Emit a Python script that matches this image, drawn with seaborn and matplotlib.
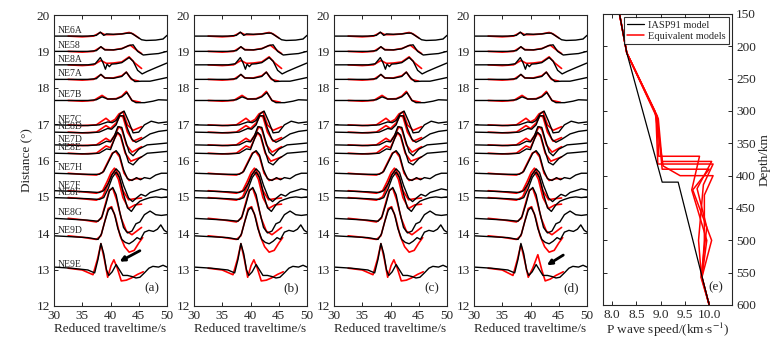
import seaborn as sns
import pandas as pd
import matplotlib.pyplot as plt

# stations and epicentral distances (deg)
stations = ["NE6A", "NE58", "NE8A", "NE7A", "NE7B", "NE7C", "NE8D", "NE7D",
            "NE8E", "NE7H", "NE7F", "NE8F", "NE8G", "NE9D", "NE9E"]
distances = [19.42, 19.0, 18.63, 18.23, 17.65, 16.98, 16.78, 16.43,
             16.2, 15.65, 15.17, 14.98, 14.41, 13.93, 12.99]

# observed traces (black): (reduced time s, amplitude in deg)
ne6a_obs = ([30, 36, 37.5, 38.2, 38.8, 39.3, 40.5, 42, 43, 43.7, 44.5, 45.5, 46.3, 48, 49.3, 50],
            [0, 0, 0.02, 0.11, 0.02, 0.06, 0.05, 0.06, 0.08, 0.08, 0.0, -0.1, -0.12, -0.11, -0.08, 0.02])
ne58_obs = ([30, 36, 37.5, 38.3, 39, 40.5, 42, 43.2, 44, 44.8, 45.8, 47, 48.5, 50],
            [0, 0, 0.02, 0.13, 0.04, 0.04, 0.07, 0.16, 0.18, 0.0, -0.1, -0.08, -0.06, 0.0])
ne8a_obs = ([30, 36, 37.3, 38.2, 38.7, 39.1, 39.4, 39.8, 40.2, 41, 42, 43.3, 44, 44.8, 45.6, 46.5, 48, 50],
            [0, 0, 0.03, 0.2, 0.05, -0.12, 0.02, -0.05, 0.02, 0.03, 0.06, 0.2, 0.1, -0.15, -0.25, -0.18, -0.08, 0.05])
ne7a_obs = ([30, 36, 37.5, 38.3, 39, 40.5, 42, 42.8, 43.5, 44.3, 45.5, 47, 48.5, 50],
            [0, 0, 0.02, 0.14, 0.04, 0.03, 0.08, 0.2, 0.05, -0.06, -0.05, -0.05, 0.0, 0.05])
ne7b_obs = ([30, 36, 37.5, 38.5, 39.5, 41, 42, 42.9, 43.8, 44.5, 46, 47.5, 48.5, 50],
            [0, 0, 0.02, 0.1, 0.04, 0.04, 0.1, 0.22, 0.0, -0.06, -0.06, -0.02, 0.02, 0.01])
ne7c_obs = ([30, 36, 38, 39.5, 40.3, 41, 41.7, 42.4, 43.2, 44, 45, 46, 47.2, 48.5, 50],
            [0, -0.02, 0.0, 0.08, 0.06, 0.12, 0.3, 0.38, 0.1, -0.22, -0.2, 0.0, 0.1, 0.05, 0.08])
ne8d_obs = ([30, 36, 38, 39.5, 40.2, 41, 41.6, 42.3, 43, 43.8, 44.5, 45.5, 47, 48.5, 50],
            [0, -0.02, 0, 0.1, 0.08, 0.2, 0.45, 0.45, 0.1, -0.2, -0.28, -0.2, -0.05, 0.02, 0.05])
ne7d_obs = ([30, 36, 38, 39.3, 40, 40.7, 41.3, 42, 42.6, 43.3, 44, 45, 46.5, 48, 50],
            [0, -0.02, 0, 0.1, 0.08, 0.25, 0.5, 0.48, 0.15, -0.2, -0.3, -0.12, 0.0, 0.02, 0.05])
ne8e_obs = ([30, 36, 38, 39.3, 40, 40.6, 41.2, 41.8, 42.5, 43.2, 44, 45, 46.5, 48, 50],
            [0, -0.02, 0, 0.12, 0.1, 0.35, 0.58, 0.5, 0.1, -0.25, -0.32, -0.15, 0.0, 0.02, 0.05])
ne7h_obs = ([30, 36, 38, 38.8, 39.6, 40.4, 41.0, 41.6, 42.3, 43, 43.8, 44.6, 45.3, 46, 47, 48, 49, 50],
            [0, -0.03, -0.03, 0.05, 0.3, 0.55, 0.62, 0.5, 0.1, -0.15, -0.2, -0.12, -0.18, -0.12, -0.15, -0.05, 0.0, 0.0])
ne7f_obs = ([30, 36, 38, 38.8, 39.6, 40.3, 41.0, 41.6, 42.3, 43.2, 43.9, 44.6, 45.4, 46.2, 47, 48, 49, 50],
            [0, -0.03, -0.05, 0.0, 0.2, 0.45, 0.6, 0.5, 0.15, -0.2, -0.3, -0.2, -0.1, -0.15, -0.05, 0.0, 0.05, 0.02])
ne8f_obs = ([30, 36, 38, 38.8, 39.6, 40.3, 41.0, 41.6, 42.3, 43.0, 43.7, 44.5, 45.2, 46, 47, 48, 49, 50],
            [0, -0.03, -0.05, 0.0, 0.25, 0.55, 0.7, 0.55, 0.1, -0.28, -0.38, -0.2, -0.1, -0.05, 0.0, 0.02, 0.0, 0.02])
ne8g_obs = ([30, 36, 37.8, 38.5, 39.2, 39.8, 40.4, 41, 41.6, 42.3, 43, 43.8, 44.5, 45.2, 46, 47, 48, 49, 50],
            [0, -0.05, -0.08, 0.05, 0.4, 0.75, 0.85, 0.65, 0.2, -0.25, -0.4, -0.35, -0.15, -0.1, 0.1, 0.2, 0.1, 0.08, 0.1])
ne9d_obs = ([30, 36, 37.8, 38.4, 39, 39.6, 40.1, 40.7, 41.3, 42, 42.6, 43.3, 44, 44.7, 45.3, 46, 46.8, 47.6, 48.3, 48.9, 49.5, 50],
            [0, -0.05, -0.1, 0.05, 0.4, 0.7, 0.78, 0.6, 0.2, -0.1, -0.18, -0.22, -0.15, -0.05, -0.1, 0.1, 0.15, 0.12, 0.18, 0.3, 0.15, 0.1])
ne9e_obs = ([30, 33, 36, 37.2, 37.8, 38.3, 38.8, 39.3, 39.7, 40.3, 41, 41.6, 42.2, 43, 43.8, 44.5, 45.2, 46, 46.8, 47.5, 48.5, 49.3, 50],
            [0.08, 0.05, 0.0, -0.08, 0.3, 0.73, 0.45, 0.0, -0.15, -0.05, 0.15, 0.0, -0.15, -0.15, -0.18, -0.22, -0.2, -0.08, 0.05, 0.1, 0.08, 0.13, 0.08])

# synthetic traces (red)
ne6a_syn = ([32.5, 35, 37, 38.2, 39, 40.5, 42, 43.3, 44, 45],
            [0, -0.02, 0, 0.1, 0.04, 0.04, 0.06, 0.1, 0.06, -0.05])
ne58_syn = ([32.5, 35, 37, 38.3, 39, 40.5, 42, 43.5, 44.5, 45.5],
            [0, -0.02, 0, 0.12, 0.05, 0.04, 0.08, 0.17, 0.05, -0.06])
ne8a_syn = ([32.5, 35, 37, 38.3, 39.3, 40.5, 42, 43.3, 44.3, 45.5],
            [0, -0.02, 0, 0.12, 0.04, 0.05, 0.08, 0.22, 0.05, -0.1])
ne7a_syn = ([32.5, 35, 37, 38.3, 39, 40.5, 42, 42.8, 43.7, 45],
            [0, -0.02, 0, 0.13, 0.04, 0.04, 0.1, 0.2, 0.0, -0.05])
ne7b_syn = ([32.5, 35, 37, 38.5, 39.5, 41, 42, 42.8, 43.8, 45.3],
            [0, -0.02, 0, 0.14, 0.04, 0.05, 0.12, 0.25, 0.0, -0.05])
ne7c_syn = ([32.5, 35, 37.5, 39.2, 40, 40.8, 41.5, 42.2, 43, 44, 45.5],
            [0, -0.02, 0.0, 0.18, 0.08, 0.15, 0.3, 0.36, 0.0, -0.15, -0.05])
ne8d_syn = ([32.5, 35, 37.5, 39.2, 40, 41, 41.7, 42.2, 43, 44, 45.5],
            [0, -0.02, 0, 0.18, 0.1, 0.25, 0.45, 0.42, 0.0, -0.25, -0.15])
ne7d_syn = ([32.5, 35, 37.5, 39.2, 40, 40.8, 41.5, 42, 42.8, 43.8, 45.5],
            [0, -0.02, 0, 0.18, 0.1, 0.28, 0.5, 0.42, 0.0, -0.2, -0.05])
ne8e_syn = ([32.5, 35, 37.5, 39.2, 40, 40.7, 41.3, 41.8, 42.6, 43.6, 45.5],
            [0, -0.02, 0, 0.2, 0.15, 0.4, 0.56, 0.45, 0.0, -0.22, -0.1])
ne7h_syn = ([32.5, 35, 37.5, 38.6, 39.5, 40.3, 40.9, 41.6, 42.4, 43.3, 44.5, 45.5],
            [0, -0.03, -0.05, 0.02, 0.3, 0.55, 0.6, 0.45, 0.0, -0.2, -0.15, -0.15])
ne7f_syn = ([32.5, 35, 37.5, 38.6, 39.4, 40.1, 40.7, 41.4, 42.2, 43.2, 44.3, 45.5],
            [0, -0.03, -0.07, 0.0, 0.25, 0.5, 0.62, 0.45, 0.0, -0.25, -0.22, -0.2])
ne8f_syn = ([32.5, 35, 37.5, 38.6, 39.4, 40.1, 40.7, 41.4, 42.2, 43.2, 44.3, 45.5],
            [0, -0.03, -0.07, 0.02, 0.3, 0.6, 0.72, 0.5, 0.0, -0.3, -0.2, -0.18])
ne8g_syn = ([32.5, 35, 37.5, 38.4, 39.1, 39.8, 40.4, 41.1, 41.9, 42.8, 43.8, 45.5],
            [0, -0.04, -0.1, 0.0, 0.4, 0.78, 0.82, 0.5, 0.0, -0.35, -0.45, -0.25])
ne9d_syn = ([32.5, 35, 37.5, 38.3, 39, 39.6, 40.2, 40.9, 41.7, 42.5, 43.3, 44.2, 45, 45.7],
            [0, -0.04, -0.1, 0.0, 0.4, 0.75, 0.8, 0.5, 0.0, -0.3, -0.45, -0.4, -0.2, -0.05])
ne9e_syn_abc = ([32.5, 35, 36.9, 37.7, 38.3, 38.9, 39.5, 40.1, 40.6, 41.2, 41.9, 42.8, 43.7, 44.8, 45.8],
                [0.05, 0.0, -0.13, 0.3, 0.72, 0.3, -0.2, 0.12, 0.28, 0.05, -0.3, -0.28, -0.22, -0.12, -0.05])
ne9e_syn_d = ([32.5, 35, 36.9, 37.7, 38.3, 38.9, 39.6, 40.4, 41.3, 42.0, 42.6, 43.5, 44.5, 45.8],
              [0.05, 0.0, -0.15, 0.3, 0.7, 0.3, -0.2, 0.05, 0.42, 0.0, -0.3, -0.25, -0.15, -0.05])

observed = [ne6a_obs, ne58_obs, ne8a_obs, ne7a_obs, ne7b_obs, ne7c_obs, ne8d_obs, ne7d_obs,
            ne8e_obs, ne7h_obs, ne7f_obs, ne8f_obs, ne8g_obs, ne9d_obs, ne9e_obs]
synth_common = [ne6a_syn, ne58_syn, ne8a_syn, ne7a_syn, ne7b_syn, ne7c_syn, ne8d_syn, ne7d_syn,
                ne8e_syn, ne7h_syn, ne7f_syn, ne8f_syn, ne8g_syn, ne9d_syn]
panel_tags = ["(a)", "(b)", "(c)", "(d)"]
ne9e_by_panel = [ne9e_syn_abc, ne9e_syn_abc, ne9e_syn_abc, ne9e_syn_d]

# arrows: (tail time, tail dist, head time, head dist)
arrow_a = (45.2, 13.52, 41.6, 13.22)
arrow_d = (45.8, 13.4, 42.9, 13.12)

# panel (e): velocity models (depth km, Vp km/s)
iasp_depth = [150, 210, 410, 410, 600]
iasp_vp = [8.15, 8.30, 9.03, 9.36, 10.0]
eq1_depth = [150, 210, 310, 370, 370, 422, 500, 557, 600]
eq1_vp = [8.15, 8.30, 8.92, 8.96, 9.80, 9.64, 9.95, 9.85, 10.0]
eq2_depth = [150, 210, 305, 382, 382, 414, 500, 557, 600]
eq2_vp = [8.15, 8.30, 8.90, 8.94, 10.08, 9.88, 9.78, 9.84, 10.0]
eq3_depth = [150, 210, 308, 390, 390, 422, 500, 557, 600]
eq3_vp = [8.15, 8.30, 8.93, 9.03, 10.0, 9.66, 10.05, 9.85, 10.0]
eq4_depth = [150, 210, 300, 385, 400, 400, 430, 500, 557, 600]
eq4_vp = [8.15, 8.30, 8.88, 9.05, 9.40, 10.08, 9.90, 9.90, 9.85, 10.0]
eq5_depth = [150, 210, 312, 378, 378, 420, 480, 557, 600]
eq5_vp = [8.15, 8.30, 8.95, 9.03, 10.05, 9.75, 9.95, 9.83, 10.0]
eq_models = [(eq1_depth, eq1_vp), (eq2_depth, eq2_vp), (eq3_depth, eq3_vp),
             (eq4_depth, eq4_vp), (eq5_depth, eq5_vp)]
vp_ticks = [8.0, 8.5, 9.0, 9.5, 10.0]
depth_ticks = [150, 200, 250, 300, 350, 400, 450, 500, 550, 600]


def traces_frame(traces):
    rows = []
    for name, dist, (t, a) in zip(stations, distances, traces):
        for ti, ai in zip(t, a):
            rows.append({"station": name, "time": ti, "dist": dist + ai})
    return pd.DataFrame(rows)


sns.set_style("ticks")
plt.rcParams["font.family"] = ["Liberation Serif", "DejaVu Serif"]
plt.rcParams["mathtext.fontset"] = "stix"

W, H = 778, 339
fig = plt.figure(figsize=(W / 100, H / 100), dpi=100)


def px_axes(x0, x1, y0, y1):
    return fig.add_axes([x0 / W, 1 - y1 / H, (x1 - x0) / W, (y1 - y0) / H])


df_obs = traces_frame(observed)
for i, tag in enumerate(panel_tags):
    x0 = 54 + 140 * i
    ax = px_axes(x0, x0 + 113, 15, 306)
    df_syn = traces_frame(synth_common + [ne9e_by_panel[i]])
    sns.lineplot(data=df_syn, x="time", y="dist", units="station", estimator=None,
                 sort=False, color="red", lw=1.2, ax=ax)
    sns.lineplot(data=df_obs, x="time", y="dist", units="station", estimator=None,
                 sort=False, color="black", lw=1.0, ax=ax)
    ax.set_xlim(30, 50)
    ax.set_ylim(12, 20)
    ax.set_xticks([30, 35, 40, 45, 50])
    ax.set_yticks(range(12, 21))
    ax.tick_params(direction="in", top=True, right=True, length=3, width=0.7,
                   labelsize=9.5)
    ax.tick_params(axis="x", pad=3)
    ax.tick_params(axis="y", pad=3)
    for s in ax.spines.values():
        s.set_linewidth(0.8)
    ax.set_xlabel("Reduced traveltime/s", fontsize=9.5, labelpad=0.5)
    ax.set_ylabel("")
    ax.text(0.93, 0.04, tag, transform=ax.transAxes, ha="right", va="bottom", fontsize=9.5)
    if i == 0:
        ax.set_ylabel("Distance (°)", fontsize=9.5, labelpad=2)
        for name, dist in zip(stations, distances):
            ax.text(30.6, dist + 0.03, name, fontsize=7, ha="left", va="bottom")
        arr = arrow_a
    elif i == 3:
        arr = arrow_d
    else:
        arr = None
    if arr is not None:
        ax.annotate("", xy=(arr[2], arr[3]), xytext=(arr[0], arr[1]),
                    arrowprops=dict(arrowstyle="-|>", color="black", lw=2.0,
                                    mutation_scale=7, shrinkA=0, shrinkB=0))

# panel (e)
axe = px_axes(603, 732, 14, 305)
df_iasp = pd.DataFrame({"vp": iasp_vp, "depth": iasp_depth})
rows = []
for k, (dep, vp) in enumerate(eq_models):
    for d, v in zip(dep, vp):
        rows.append({"model": k, "vp": v, "depth": d})
df_eq = pd.DataFrame(rows)
sns.lineplot(data=df_eq, x="vp", y="depth", units="model", estimator=None, sort=False,
             color="red", lw=1.1, ax=axe)
sns.lineplot(data=df_iasp, x="vp", y="depth", estimator=None, sort=False,
             color="black", lw=0.9, ax=axe)
axe.plot([], [], color="black", lw=0.9, label="IASP91 model")
axe.plot([], [], color="red", lw=1.1, label="Equivalent models")
axe.set_xlim(7.81, 10.47)
axe.set_ylim(600, 150)
axe.set_xticks(vp_ticks)
axe.set_xticklabels([f"{v:.1f}" for v in vp_ticks])
axe.set_yticks(depth_ticks)
axe.yaxis.tick_right()
axe.yaxis.set_label_position("right")
axe.tick_params(direction="in", top=True, left=True, right=True, length=3, width=0.7,
                labelsize=9.5)
axe.tick_params(axis="x", pad=3)
axe.tick_params(axis="y", pad=3)
for s in axe.spines.values():
    s.set_linewidth(0.8)
axe.set_xlabel(r"P wave speed/(km$\cdot$s$^{-1}$)", fontsize=9.5, labelpad=0)
axe.set_ylabel("Depth/km", fontsize=9.5, labelpad=2)
axe.text(0.93, 0.04, "(e)", transform=axe.transAxes, ha="right", va="bottom", fontsize=9.5)
leg = axe.legend(loc="upper right", fontsize=7.5, frameon=True, fancybox=False,
                 edgecolor="black", handlelength=1.6, borderpad=0.3, labelspacing=0.2,
                 handletextpad=0.4, borderaxespad=0.3)
leg.get_frame().set_linewidth(0.8)

fig.savefig("out.png", dpi=100)
